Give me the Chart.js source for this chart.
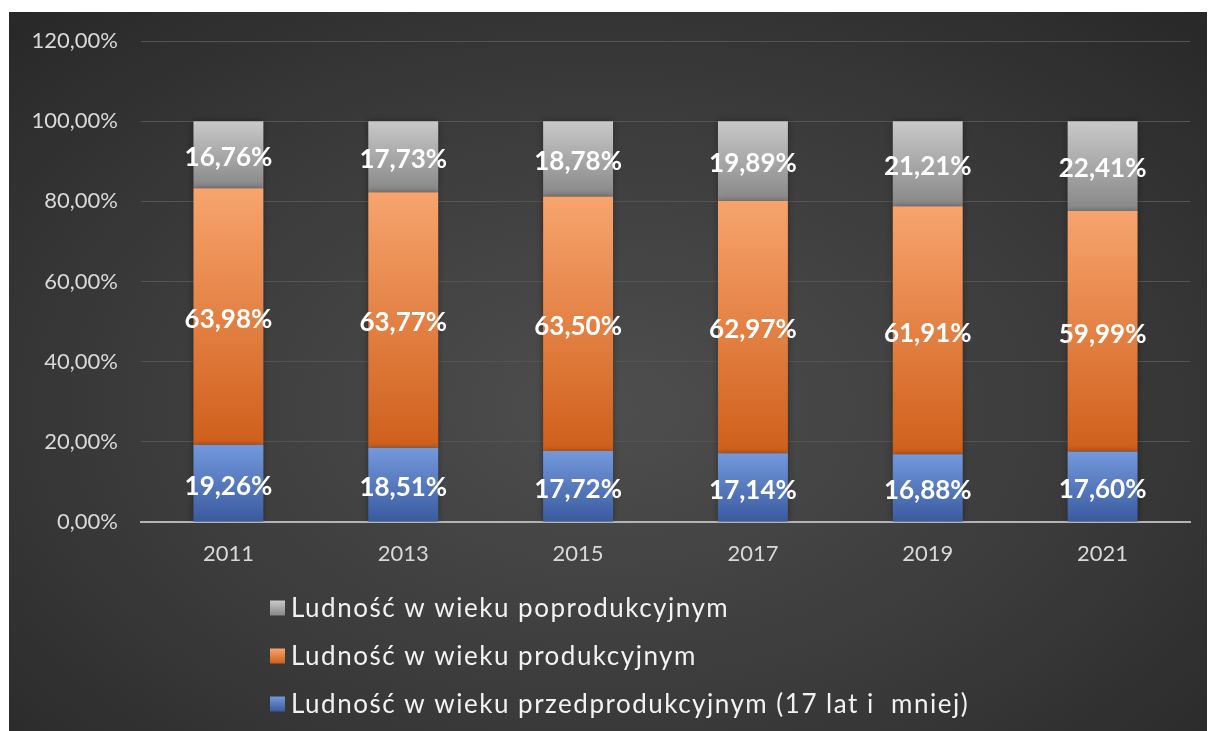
<!DOCTYPE html>
<html lang="pl">
<head>
<meta charset="utf-8">
<title>Struktura ludności według grup wieku</title>
<script src="https://cdn.jsdelivr.net/npm/chart.js@4/dist/chart.umd.min.js"></script>
<style>
  html, body { margin: 0; padding: 0; background: #ffffff; }
  #wrap {
    position: absolute; left: 9px; top: 12px; width: 1198px; height: 719px;
    background: radial-gradient(ellipse 75% 80% at 50% 55%, #4e4e4e 0%, #3a3a3a 55%, #262626 100%);
  }
</style>
</head>
<body>
<div id="wrap"><canvas id="ageChart"></canvas></div>
<script>
// years on the x axis
const years = ['2011', '2013', '2015', '2017', '2019', '2021'];

// shares of population, percent (bottom to top in the stack)
const preWorking = [19.26, 18.51, 17.72, 17.14, 16.88, 17.60];
const working = [63.98, 63.77, 63.50, 62.97, 61.91, 59.99];
const postWorking = [16.76, 17.73, 18.78, 19.89, 21.21, 22.41];

const seriesNames = [
  'Ludność w wieku przedprodukcyjnym (17 lat i  mniej)',
  'Ludność w wieku produkcyjnym',
  'Ludność w wieku poprodukcyjnym'
];

// y axis range
const yMax = 120;
const yStep = 20;

const FONT = "'Lato', 'Liberation Sans', sans-serif";

function pct(v) {
  return v.toFixed(2).replace('.', ',') + '%';
}

// vertical gradient per stacked segment (Excel style)
function segmentFill(top, bottom) {
  return (c) => {
    const chart = c.chart;
    if (!chart.chartArea) return bottom;
    const y = chart.scales.y;
    let start = 0;
    for (let d = 0; d < c.datasetIndex; d++) start += chart.data.datasets[d].data[c.dataIndex];
    const end = start + chart.data.datasets[c.datasetIndex].data[c.dataIndex];
    const g = chart.ctx.createLinearGradient(0, y.getPixelForValue(end), 0, y.getPixelForValue(start));
    g.addColorStop(0, top);
    g.addColorStop(1, bottom);
    return g;
  };
}

const palette = [
  { top: '#7399dc', bottom: '#3a5a9e' },
  { top: '#f7a46e', bottom: '#cf5f1b' },
  { top: '#c9c9c9', bottom: '#878787' }
];

// soft shadow under the bars
const barShadow = {
  id: 'barShadow',
  beforeDatasetsDraw(chart) {
    const ctx = chart.ctx;
    ctx.save();
    ctx.shadowColor = 'rgba(0,0,0,0.35)';
    ctx.shadowBlur = 6;
  },
  afterDatasetsDraw(chart) {
    chart.ctx.restore();
  }
};

// white value labels in the middle of each segment
const valueLabels = {
  id: 'valueLabels',
  afterDatasetsDraw(chart) {
    const ctx = chart.ctx;
    ctx.save();
    ctx.font = 'bold 26px ' + FONT;
    ctx.fillStyle = '#ffffff';
    ctx.textAlign = 'center';
    ctx.textBaseline = 'middle';
    chart.data.datasets.forEach((ds, di) => {
      chart.getDatasetMeta(di).data.forEach((el, i) => {
        const mid = (el.y + el.base) / 2 + 3;
        ctx.fillText(pct(ds.data[i]), el.x, mid);
      });
    });
    ctx.restore();
  }
};

// vertical legend under the axis, top series first
const stackLegend = {
  id: 'stackLegend',
  afterDraw(chart) {
    const ctx = chart.ctx;
    const sets = chart.data.datasets.slice().reverse();
    ctx.save();
    ctx.font = '26px ' + FONT;
    ctx.letterSpacing = '1.5px';
    let maxW = 0;
    sets.forEach(ds => { maxW = Math.max(maxW, ctx.measureText(ds.label).width); });
    const box = 15, gap = 6;
    const x0 = Math.round((chart.width - (box + gap + maxW)) / 2) + 12;
    const y0 = chart.chartArea.bottom + 86;
    sets.forEach((ds, k) => {
      const idx = chart.data.datasets.indexOf(ds);
      const cy = y0 + k * 48;
      const g = ctx.createLinearGradient(0, cy - box / 2, 0, cy + box / 2);
      g.addColorStop(0, palette[idx].top);
      g.addColorStop(1, palette[idx].bottom);
      ctx.fillStyle = g;
      ctx.fillRect(x0, cy - box / 2, box, box);
      ctx.fillStyle = '#f2f2f2';
      ctx.textBaseline = 'middle';
      ctx.textAlign = 'left';
      ctx.fillText(ds.label, x0 + box + gap, cy + 1);
    });
    ctx.restore();
  }
};

const datasets = [preWorking, working, postWorking].map((vals, i) => ({
  label: seriesNames[i],
  data: vals,
  backgroundColor: segmentFill(palette[i].top, palette[i].bottom),
  borderWidth: 0,
  barPercentage: 0.4,
  categoryPercentage: 1
}));

new Chart(document.getElementById('ageChart'), {
  type: 'bar',
  data: { labels: years, datasets },
  options: {
    responsive: true,
    maintainAspectRatio: false,
    animation: false,
    layout: { padding: { top: 29, right: 17, bottom: 160, left: 0 } },
    plugins: {
      legend: { display: false },
      tooltip: { enabled: false }
    },
    scales: {
      x: {
        stacked: true,
        grid: { display: false, drawTicks: false },
        border: { display: true, color: '#b4b4b4', width: 2 },
        ticks: { color: '#d9d9d9', font: { family: FONT, size: 22 }, padding: 19 },
        afterFit(scale) { scale.height = 49; scale.paddingLeft = 0; scale.paddingRight = 0; }
      },
      y: {
        stacked: true,
        min: 0,
        max: yMax,
        grid: { color: '#545454', lineWidth: 1, drawTicks: false },
        border: { display: false },
        ticks: {
          stepSize: yStep,
          color: '#d9d9d9',
          font: { family: FONT, size: 22 },
          padding: 23,
          callback: (v) => pct(v)
        },
        afterFit(scale) { scale.width = 132; scale.paddingTop = 0; scale.paddingBottom = 0; }
      }
    }
  },
  plugins: [barShadow, valueLabels, stackLegend]
});
</script>
</body>
</html>
